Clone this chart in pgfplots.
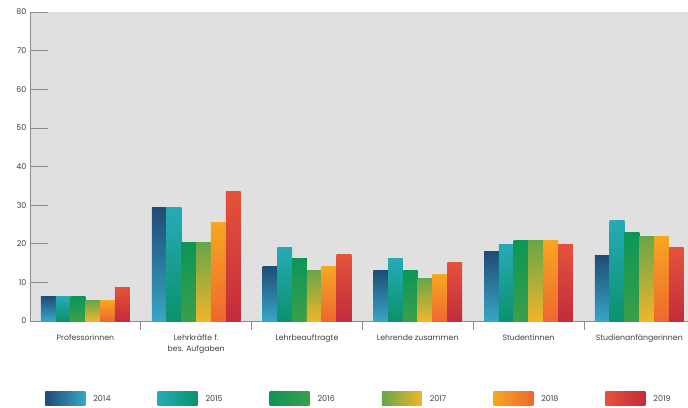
\documentclass[border=0pt]{standalone}
\usepackage{fontspec}
\setmainfont{Poppins}
\usepackage{pgfplots}
\pgfplotsset{compat=1.18}
\usepackage{pgfplotstable}
\definecolor{bggray}{HTML}{E0E0E0}
\definecolor{axgray}{HTML}{8C8C8C}
\definecolor{txt}{HTML}{404040}
\definecolor{t14}{HTML}{1F4C76}\definecolor{b14}{HTML}{37A6C6}
\definecolor{t15}{HTML}{27AAB7}\definecolor{b15}{HTML}{0A926C}
\definecolor{t16}{HTML}{0B9655}\definecolor{b16}{HTML}{3C9F4A}
\definecolor{t17}{HTML}{67A648}\definecolor{b17}{HTML}{F0B52A}
\definecolor{t18}{HTML}{F7A720}\definecolor{b18}{HTML}{EE6830}
\definecolor{t19}{HTML}{E5523A}\definecolor{b19}{HTML}{C22C3C}
\pgfplotstableread{
x a b c d e f
0 6.4 6.3 6.3 5.3 5.3 8.7
1 29.3 29.3 20.2 20.2 25.4 33.4
2 14.2 19.1 16.2 13.1 14.2 17.2
3 13.1 16.2 13.1 11.1 12.1 15.2
4 18.0 19.9 20.9 20.9 20.9 19.9
5 17.0 26.0 23.0 21.9 21.9 19.0
}\data
\newcommand{\swatch}[2]{\path[draw=none,left color=#1,right color=#2] (0bp,-7bp) rectangle (40bp,7bp);}
% one series: column #1, shift #2, colours #3/#4; every bar is its own plot so that each is shaded top to bottom
\newcommand{\series}[4]{%
  \addplot[draw=none, bar shift=#2, top color=#3, bottom color=#4, legend image code/.code={\swatch{#3}{#4}}, restrict x to domain=-0.2:0.2] table[x=x,y=#1]{\data};
  \addplot[forget plot, draw=none, bar shift=#2, top color=#3, bottom color=#4, restrict x to domain=0.8:1.2] table[x=x,y=#1]{\data};
  \addplot[forget plot, draw=none, bar shift=#2, top color=#3, bottom color=#4, restrict x to domain=1.8:2.2] table[x=x,y=#1]{\data};
  \addplot[forget plot, draw=none, bar shift=#2, top color=#3, bottom color=#4, restrict x to domain=2.8:3.2] table[x=x,y=#1]{\data};
  \addplot[forget plot, draw=none, bar shift=#2, top color=#3, bottom color=#4, restrict x to domain=3.8:4.2] table[x=x,y=#1]{\data};
  \addplot[forget plot, draw=none, bar shift=#2, top color=#3, bottom color=#4, restrict x to domain=4.8:5.2] table[x=x,y=#1]{\data};
}
\begin{document}
\begin{tikzpicture}
\begin{axis}[
  scale only axis, width=658bp, height=309bp,
  xmin=-0.5, xmax=5.44, ymin=0, ymax=80,
  ytick distance=10,
  axis background/.style={fill=bggray},
  axis x line*=bottom, axis y line*=left,
  axis line style={draw=axgray, line width=0.6pt},
  tick align=inside,
  major tick length=18bp, minor tick length=9bp,
  tick style={draw=axgray, line width=0.6pt},
  major x tick style={draw=none},
  ybar, bar width=14.8bp,
  xtick={0,...,5},
  minor xtick={0.5,1.5,2.5,3.5,4.5},
  xticklabels={Professorinnen,{Lehrkräfte f.\\bes. Aufgaben},Lehrbeauftragte,Lehrende zusammen,Studentinnen,Studienanfängerinnen},
  xticklabel style={align=center, font=\fontsize{7.8}{11}\selectfont, text=txt, yshift=8bp},
  yticklabel style={font=\fontsize{8}{9}\selectfont, text=txt},
  /pgf/number format/assume math mode=true,
  legend columns=6,
  legend style={at={(0.5,-0.252)}, anchor=center, draw=none, fill=none,
    font=\fontsize{8}{9}\selectfont, text=txt,
    /tikz/every even column/.append style={column sep=45bp},
    /tikz/every odd column/.append style={column sep=6bp}},
]
\series{a}{-37bp}{t14}{b14}
\series{b}{-22.2bp}{t15}{b15}
\series{c}{-7.4bp}{t16}{b16}
\series{d}{7.4bp}{t17}{b17}
\series{e}{22.2bp}{t18}{b18}
\series{f}{37bp}{t19}{b19}
\legend{2014,2015,2016,2017,2018,2019}
\coordinate (sw) at (rel axis cs:0,0);
\coordinate (ne) at (rel axis cs:1,1);
\end{axis}
\pgfresetboundingbox
\path ([shift={(-30bp,-87bp)}]sw) rectangle ([shift={(0bp,12bp)}]ne);
\end{tikzpicture}
\end{document}
